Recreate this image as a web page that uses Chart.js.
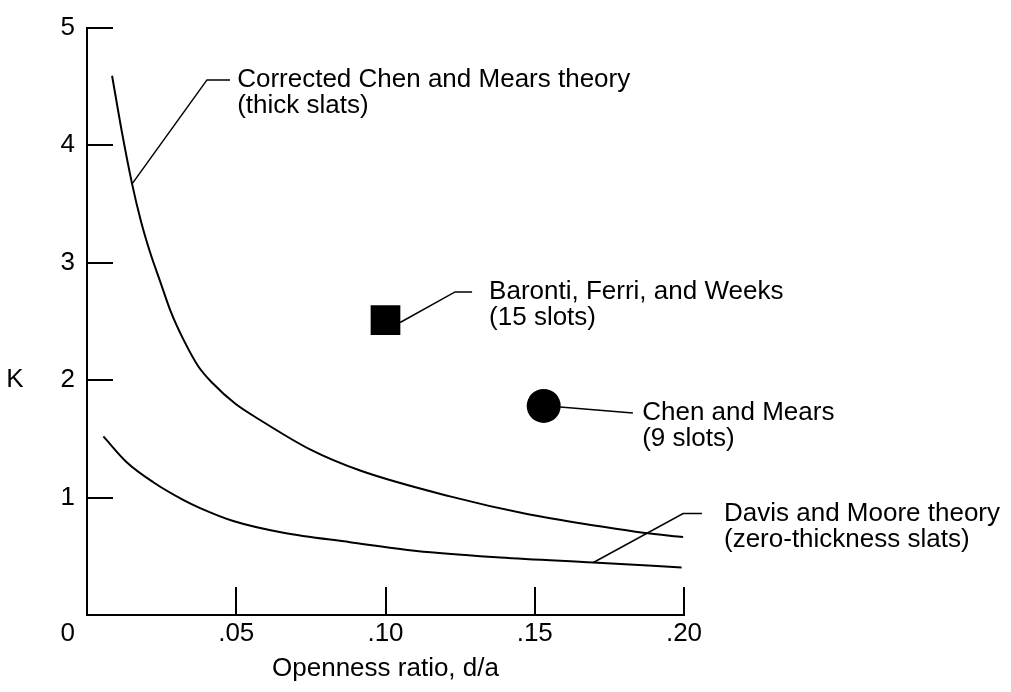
<!DOCTYPE html>
<html>
<head>
<meta charset="utf-8">
<script src="https://cdn.jsdelivr.net/npm/chart.js@4"></script>
<style>
  html, body { margin: 0; padding: 0; background: #fff; }
  #wrap { width: 1011px; height: 692px; }
</style>
</head>
<body>
<div id="wrap"><canvas id="c"></canvas></div>
<script>
// Corrected Chen and Mears theory (thick slats)
const thickX = [0.0084, 0.0117, 0.0151, 0.0181, 0.0211, 0.0245, 0.0281, 0.0322, 0.0372, 0.0422, 0.0496, 0.058, 0.0747, 0.0915, 0.1216, 0.1474, 0.1719, 0.1863, 0.1997];
const thickK = [4.59, 4.11, 3.67, 3.35, 3.09, 2.84, 2.58, 2.35, 2.12, 1.97, 1.80, 1.66, 1.41, 1.23, 1.01, 0.86, 0.755, 0.70, 0.663];

// Davis and Moore theory (zero-thickness slats)
const thinX = [0.0055, 0.0133, 0.0222, 0.0322, 0.0379, 0.049, 0.0658, 0.0881, 0.1104, 0.1384, 0.1696, 0.1992];
const thinK = [1.52, 1.30, 1.13, 0.98, 0.91, 0.80, 0.70, 0.62, 0.545, 0.49, 0.447, 0.405];

// Experiments
const barontiX = [0.100];
const barontiK = [2.51];
const chenX = [0.153];
const chenK = [1.78];

// Axis ticks
const xTicks = [0, 0.05, 0.10, 0.15, 0.20];
const xTickLabels = ['0', '.05', '.10', '.15', '.20'];
const yTicks = [0, 1, 2, 3, 4, 5];
const yTickLabels = ['0', '1', '2', '3', '4', '5'];

const xTitle = 'Openness ratio, d/a';
const yTitle = 'K';

// Callout labels with their leader paths, in data units
const notes = [
  { lines: ['Corrected Chen and Mears theory', '(thick slats)'],
    path: [[0.0151, 3.67], [0.0402, 4.555], [0.0479, 4.555]], textX: 0.0503 },
  { lines: ['Baronti, Ferri, and Weeks', '(15 slots)'],
    path: [[0.1049, 2.49], [0.1233, 2.75], [0.129, 2.75]], textX: 0.1347 },
  { lines: ['Chen and Mears', '(9 slots)'],
    path: [[0.1585, 1.77], [0.1829, 1.72]], textX: 0.186 },
  { lines: ['Davis and Moore theory', '(zero-thickness slats)'],
    path: [[0.1695, 0.445], [0.1997, 0.864], [0.206, 0.864]], textX: 0.2134 }
];

const FONT = '"Liberation Sans", Arial, Helvetica, sans-serif';
const FONT_SIZE = 26;
const INK = '#000';

const pts = (xs, ys) => xs.map((x, i) => ({ x: x, y: ys[i] }));

// Inward tick marks, the origin "0", the K label and the callouts
const decorations = {
  id: 'decorations',
  afterDraw(chart) {
    const { ctx, chartArea: a, scales: { x, y } } = chart;
    ctx.save();
    ctx.strokeStyle = INK;
    ctx.lineWidth = 2;
    ctx.lineCap = 'butt';
    ctx.beginPath();
    yTicks.forEach(v => {
      if (v === 0) return;
      const py = Math.round(y.getPixelForValue(v));
      ctx.moveTo(a.left, py);
      ctx.lineTo(a.left + 26, py);
    });
    xTicks.forEach(v => {
      if (v === 0) return;
      const px = Math.round(x.getPixelForValue(v));
      ctx.moveTo(px, a.bottom);
      ctx.lineTo(px, a.bottom - 28);
    });
    ctx.stroke();

    ctx.fillStyle = INK;
    ctx.font = FONT_SIZE + 'px ' + FONT;
    ctx.textBaseline = 'middle';

    // shared origin label
    ctx.textAlign = 'right';
    ctx.fillText(xTickLabels[0], a.left - 12, a.bottom + 19);

    // vertical axis name, set upright
    ctx.textAlign = 'center';
    ctx.fillText(yTitle, a.left - 72, a.top + 0.6 * (a.bottom - a.top));

    // callouts
    ctx.lineWidth = 1.5;
    ctx.textAlign = 'left';
    notes.forEach(n => {
      ctx.beginPath();
      n.path.forEach((p, i) => {
        const px = x.getPixelForValue(p[0]);
        const py = y.getPixelForValue(p[1]);
        if (i === 0) ctx.moveTo(px, py); else ctx.lineTo(px, py);
      });
      ctx.stroke();
      const last = n.path[n.path.length - 1];
      const tx = x.getPixelForValue(n.textX);
      const ty = y.getPixelForValue(last[1]);
      n.lines.forEach((t, i) => ctx.fillText(t, tx, ty + i * 26));
    });
    ctx.restore();
  }
};

new Chart(document.getElementById('c'), {
  type: 'scatter',
  data: {
    datasets: [
      { data: pts(thickX, thickK), showLine: true, borderColor: INK, borderWidth: 2,
        pointRadius: 0, cubicInterpolationMode: 'monotone', fill: false },
      { data: pts(thinX, thinK), showLine: true, borderColor: INK, borderWidth: 2,
        pointRadius: 0, cubicInterpolationMode: 'monotone', fill: false },
      { data: pts(barontiX, barontiK), pointStyle: 'rect', pointRadius: 21,
        backgroundColor: INK, borderColor: INK, borderWidth: 0 },
      { data: pts(chenX, chenK), pointStyle: 'circle', pointRadius: 17,
        backgroundColor: INK, borderColor: INK, borderWidth: 0 }
    ]
  },
  options: {
    responsive: true,
    maintainAspectRatio: false,
    animation: false,
    events: [],
    layout: { padding: { top: 19, right: 327, bottom: 0, left: 0 } },
    plugins: { legend: { display: false }, tooltip: { enabled: false } },
    scales: {
      x: {
        type: 'linear', min: 0, max: 0.2,
        afterBuildTicks: s => { s.ticks = xTicks.map(v => ({ value: v })); },
        afterFit: s => { s.height = 77; },
        ticks: {
          autoSkip: false, maxRotation: 0, padding: 3, color: INK,
          font: { family: FONT, size: FONT_SIZE },
          callback: v => { const i = xTicks.indexOf(v); return i > 0 ? xTickLabels[i] : ''; }
        },
        grid: { display: false, drawTicks: false },
        border: { display: true, color: INK, width: 2 },
        title: { display: true, text: xTitle, color: INK,
                 font: { family: FONT, size: FONT_SIZE }, padding: { top: 0, bottom: 8 } }
      },
      y: {
        type: 'linear', min: 0, max: 5,
        afterBuildTicks: s => { s.ticks = yTicks.map(v => ({ value: v })); },
        afterFit: s => { s.width = 87; },
        ticks: {
          autoSkip: false, padding: 12, color: INK,
          font: { family: FONT, size: FONT_SIZE },
          callback: v => { const i = yTicks.indexOf(v); return i > 0 ? yTickLabels[i] : ''; }
        },
        grid: { display: false, drawTicks: false },
        border: { display: true, color: INK, width: 2 }
      }
    }
  },
  plugins: [decorations]
});
</script>
</body>
</html>
